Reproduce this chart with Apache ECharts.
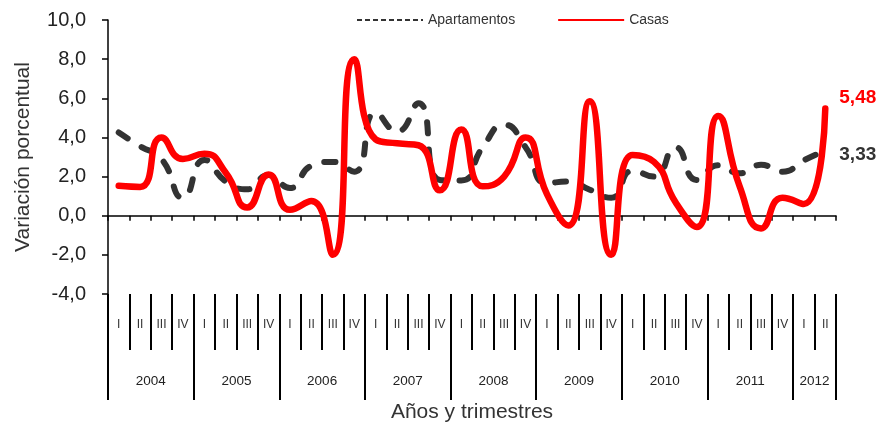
<!DOCTYPE html>
<html>
<head>
<meta charset="utf-8">
<script src="https://cdn.jsdelivr.net/npm/echarts@6/dist/echarts.min.js"></script>
<style>
html,body{margin:0;padding:0;background:#fff;}
#chart{width:892px;height:428px;}
</style>
</head>
<body>
<div id="chart"></div>
<script>
// Quarters 2004-I .. 2012-II
var years = ['2004','2005','2006','2007','2008','2009','2010','2011','2012'];
var quartersPerYear = [4,4,4,4,4,4,4,4,2];
var quarterNames = ['I','II','III','IV'];

var apartamentos = [4.25, 3.55, 2.9, 0.92, 2.85, 1.75, 1.35, 2.08, 1.42, 2.55, 2.75, 2.25,
  5.25, 4.3, 5.75, 1.83, 1.8, 3.5, 4.65, 3.5, 1.67, 1.75, 1.33, 0.92,
  2.3, 2.0, 3.5, 1.83, 2.58, 2.17, 2.6, 2.25, 2.83, 3.33];
var casas = [1.53, 1.47, 4.0, 2.9, 3.17, 2.2, 0.42, 2.1, 0.3, 0.75, -2.0, 8.0,
  3.9, 3.7, 3.6, 1.3, 4.4, 1.5, 2.0, 4.0, 1.1, -0.5, 5.85, -2.0,
  3.1, 2.75, 0.7, -0.58, 5.1, 1.5, -0.65, 0.92, 0.6, 5.48];

var yMin = -4, yMax = 10, yStep = 2;

// build category lists
var quarterCats = [], quarterLabels = [];
years.forEach(function(y, yi){
  for (var q = 0; q < quartersPerYear[yi]; q++){
    quarterCats.push(y + '-' + quarterNames[q]);
    quarterLabels.push(quarterNames[q]);
  }
});
// half-quarter grid for year labels (boundaryGap false)
var halfCats = [], yearTickIdx = {0:true};
var pos = 0;
for (var i = 0; i <= quarterCats.length * 2; i++) halfCats.push('');
years.forEach(function(y, yi){
  var n = quartersPerYear[yi] * 2;
  halfCats[pos + n / 2] = y;
  pos += n;
  yearTickIdx[pos] = true;
});

var font = "'Liberation Sans', Arial, sans-serif";
function fmt1(v){ return v.toFixed(1).replace('.', ','); }
function fmt2(v){ return v.toFixed(2).replace('.', ','); }
var noSymbol = {color: 'rgba(0,0,0,0)', borderWidth: 0, opacity: 0};

var chart = echarts.init(document.getElementById('chart'));
chart.setOption({
  animation: false,
  backgroundColor: '#fff',
  textStyle: {fontFamily: font},
  grid: {left: 108, right: 56, top: 20, bottom: 128, containLabel: false},
  legend: {
    show: true, orient: 'horizontal',
    left: 351, top: 8,
    itemWidth: 66, itemHeight: 14, itemGap: 42,
    textStyle: {fontFamily: font, fontSize: 14, color: '#333'},
    data: [
      {name: 'Apartamentos', itemStyle: noSymbol, lineStyle: {color: '#333', width: 2, type: [5, 3], cap: 'butt', opacity: 1}},
      {name: 'Casas', itemStyle: noSymbol, lineStyle: {color: '#ff0000', width: 2, type: 'solid', cap: 'butt', opacity: 1}}
    ]
  },
  xAxis: [
    {
      type: 'category', data: quarterCats, boundaryGap: true,
      axisLine: {onZero: true, lineStyle: {color: '#000', width: 1.5}},
      axisTick: {show: true, interval: 0, length: 5, lineStyle: {color: '#000', width: 1.5}},
      axisLabel: {show: false}, splitLine: {show: false}
    },
    {
      type: 'category', data: quarterLabels, boundaryGap: true, position: 'bottom',
      axisLine: {show: false, onZero: false},
      axisTick: {show: true, interval: 0, length: 56, lineStyle: {color: '#000', width: 2}},
      axisLabel: {interval: 0, fontFamily: font, fontSize: 12, color: '#333', margin: 25},
      splitLine: {show: false}
    },
    {
      type: 'category', data: halfCats, boundaryGap: false, position: 'bottom',
      axisLine: {show: false, onZero: false},
      axisTick: {show: true, length: 106, lineStyle: {color: '#000', width: 2},
        interval: function(idx){ return !!yearTickIdx[idx]; }},
      axisLabel: {interval: 0, fontFamily: font, fontSize: 13.5, color: '#222', margin: 80},
      splitLine: {show: false},
      name: 'Años y trimestres', nameLocation: 'middle', nameGap: 108,
      nameTextStyle: {fontFamily: font, fontSize: 21, color: '#333'}
    }
  ],
  yAxis: {
    type: 'value', min: yMin, max: yMax, interval: yStep,
    axisLine: {show: true, lineStyle: {color: '#000', width: 1.5}},
    axisTick: {show: true, length: 6, lineStyle: {color: '#000', width: 1.5}},
    axisLabel: {formatter: fmt1, fontFamily: font, fontSize: 20, color: '#222', margin: 22},
    splitLine: {show: false},
    name: 'Variación porcentual', nameLocation: 'middle', nameGap: 74,
    nameTextStyle: {fontFamily: font, fontSize: 21, color: '#333'}
  },
  series: [
    {
      name: 'Apartamentos', type: 'line', xAxisIndex: 0, data: apartamentos,
      smooth: 0.55, symbol: 'none', showSymbol: false,
      lineStyle: {color: '#333', width: 6, type: [11, 16], cap: 'round'},
      itemStyle: {color: '#333'},
      endLabel: {show: true, formatter: function(p){ return fmt2(p.value); },
        fontFamily: font, fontSize: 19, fontWeight: 'bold', color: '#333', distance: 14, offset: [0, 4]}
    },
    {
      name: 'Casas', type: 'line', xAxisIndex: 0, data: casas,
      smooth: 0.55, symbol: 'none', showSymbol: false,
      lineStyle: {color: '#ff0000', width: 6.5, cap: 'round'},
      itemStyle: {color: '#ff0000'},
      endLabel: {show: true, formatter: function(p){ return fmt2(p.value); },
        fontFamily: font, fontSize: 19, fontWeight: 'bold', color: '#ff0000', distance: 14, offset: [0, -11]}
    }
  ]
});
</script>
</body>
</html>
